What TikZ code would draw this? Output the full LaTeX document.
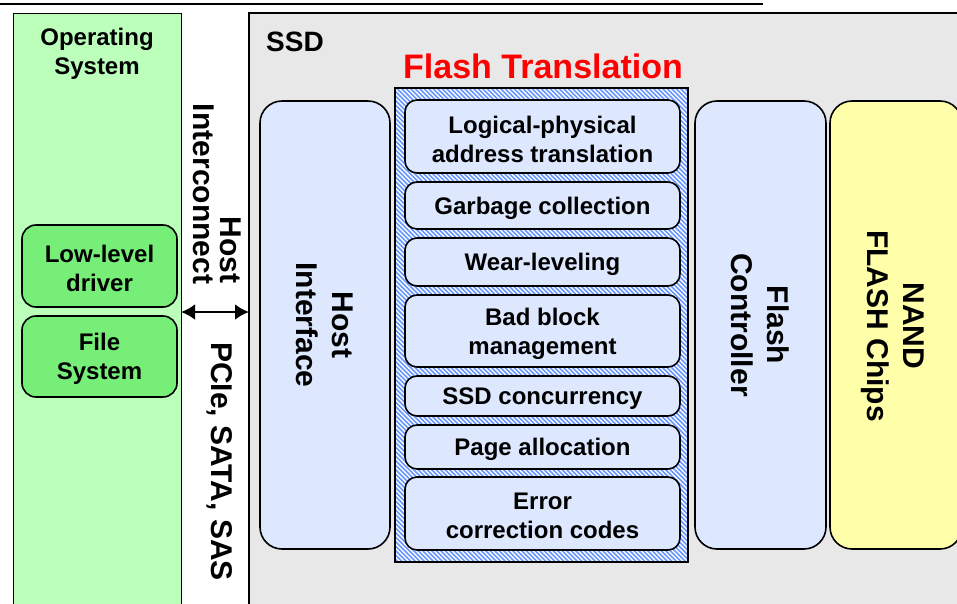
\documentclass[tikz,border=0pt]{standalone}
\usepackage{fontspec}
\setmainfont{Liberation Sans}
\usetikzlibrary{arrows.meta}

\definecolor{osgreen}{HTML}{BBFFBB}
\definecolor{drvgreen}{HTML}{77EE77}
\definecolor{ssdgray}{HTML}{E8E8E8}
\definecolor{paleblue}{HTML}{DDE8FF}
\definecolor{paleyellow}{HTML}{FFFFAA}
\definecolor{stripeblue}{HTML}{6A98FF}

\tikzset{
  plainbox/.style={draw=black, inner sep=0pt, outer sep=0pt},
  roundbox/.style={plainbox, line width=1.6pt, rounded corners=#1},
  roundbox/.default=22pt,
  ftlbox/.style={roundbox=12pt, fill=paleblue, minimum width=275pt},
  drvbox/.style={roundbox=14pt, fill=drvgreen, minimum width=155pt},
  boxtext/.style={inner sep=0pt, align=center, font=\bfseries\fontsize{24}{29}\selectfont},
  bigcol/.style={roundbox=22pt, minimum width=131pt, minimum height=448pt},
  vlabel/.style={rotate=-90, align=center, inner sep=0pt,
    font=\bfseries\fontsize{30}{36}\selectfont},
  lbl/.style={inner sep=0pt, align=center}
}

% one rounded block of the flash translation layer: name, centre y, height, text
\newcommand\ftlblock[4]{%
  \node[ftlbox, minimum height=#3] (#1) at (542.5,#2) {};
  \node[boxtext] (#1-text) at ([yshift=-2.5pt]#1.center) {#4};}

\begin{document}
\begin{tikzpicture}[x=1pt, y=-1pt]
\useasboundingbox (0,0) rectangle (957,603);
\clip (0,0) rectangle (957,603);

% page rule at the top
\draw[line width=2pt] (0,3.5) -- (763,3.5);

% host side and device side panels
\node[plainbox, line width=1pt, fill=osgreen, minimum width=168pt, minimum height=600pt]
  (os) at (97,313) {};
\node[plainbox, line width=1.4pt, fill=ssdgray, minimum width=716pt, minimum height=600pt]
  (ssd) at (607,313) {};

\node[boxtext] (ostitle) at (97,54) {Operating\\System};
\node[lbl, anchor=west, font=\bfseries\fontsize{28}{32}\selectfont] (ssdtitle) at (266,42) {SSD};

% operating system components
\node[drvbox, minimum height=82pt] (drv) at (99.5,266) {};
\node[boxtext] (drv-text) at ([yshift=-2pt]drv.center) {Low-level\\driver};
\node[drvbox, minimum height=81pt] (fs) at (99.5,356.5) {};
\node[boxtext] (fs-text) at ([yshift=-2pt]fs.center) {File\\System};

% interconnect between host and SSD
\coordinate (osport) at (os.east |- 0,312);
\coordinate (ssdport) at (ssd.west |- 0,312);
\draw[line width=2.6pt, {Latex[length=14pt,width=16pt]}-{Latex[length=14pt,width=16pt]}]
  (osport) -- (ssdport);
\node[vlabel] (hostword) at (231,250) {Host};
\node[vlabel] (icword) at (204,194) {Interconnect};
\node[vlabel] (buses) at (220,461.5) {PCIe, SATA, SAS};

% SSD building blocks
\node[bigcol, fill=paleblue, minimum width=130pt] (hif) at (325,325) {};
\node[vlabel] (hif-text) at (hif.center) {Host\\Interface};

% hatched frame of the flash translation layer
\node[plainbox, line width=1.4pt, fill=white, minimum width=293pt, minimum height=474pt]
  (ftl) at (541.5,325) {};
\begin{scope}
  \clip (ftl.north west) rectangle (ftl.south east);
  \foreach \d in {-480,-475.5,...,300}
    \draw[stripeblue, line width=1.7pt] (395+\d,88) -- (395+\d+474,562);
\end{scope}
\draw[line width=1.4pt] (ftl.north west) rectangle (ftl.south east);
\node[lbl, text=red, font=\bfseries\fontsize{34}{40}\selectfont] (ftltitle) at (543,66)
  {Flash Translation};

\ftlblock{lp}{136.5}{73pt}{Logical-physical\\address translation}
\ftlblock{gc}{205.5}{47pt}{Garbage collection}
\ftlblock{wl}{262}{48pt}{Wear-leveling}
\ftlblock{bb}{331}{72pt}{Bad block\\management}
\ftlblock{sc}{396}{40pt}{SSD concurrency}
\ftlblock{pa}{447}{44pt}{Page allocation}
\ftlblock{ec}{513.5}{73pt}{Error\\correction codes}

\node[bigcol, fill=paleblue] (fc) at (760.5,325) {};
\node[vlabel] (fc-text) at (fc.center) {Flash\\Controller};

\node[bigcol, fill=paleyellow, minimum width=132pt] (nand) at (896,325) {};
\node[vlabel] (nand-text) at (893,326) {NAND\\FLASH Chips};
\end{tikzpicture}
\end{document}
